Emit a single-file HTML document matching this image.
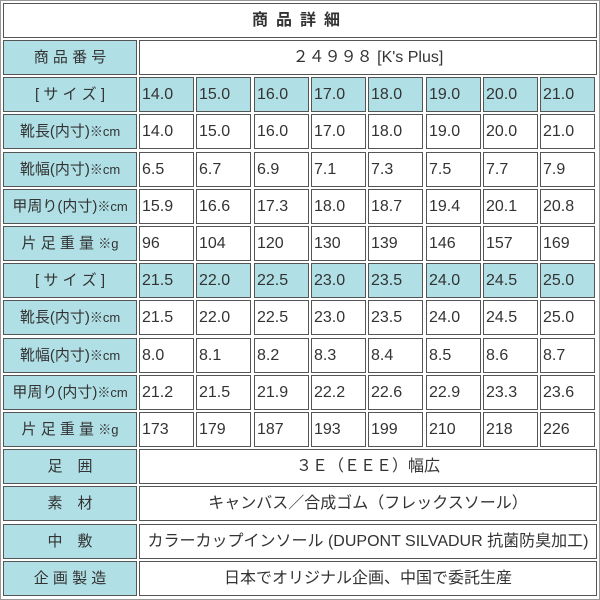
<!DOCTYPE html><html><head><meta charset="utf-8"><style>
body{margin:0;width:600px;height:600px;background:#fff;position:relative;overflow:hidden;font-family:"Liberation Sans","Noto Sans CJK JP",sans-serif;color:#333}
.o{position:absolute;left:0;top:0;width:598px;height:598px;border:1px solid #999}
.c{position:absolute;box-sizing:border-box;border:1px solid #555;font-size:16px;line-height:33px;white-space:nowrap;overflow:hidden}
.b{background:#b0e0e6}
.ct{text-align:center}
.l{padding-left:2px}
small{font-size:13px}
</style></head><body><div class="o"></div>
<div id="r"></div>
<script>
var rows=[
["商 品 番 号","２４９９８ [K's Plus]"],
["[ サ イ ズ ]",["14.0","15.0","16.0","17.0","18.0","19.0","20.0","21.0"],1],
["靴長(内寸)<small>※cm</small>",["14.0","15.0","16.0","17.0","18.0","19.0","20.0","21.0"]],
["靴幅(内寸)<small>※cm</small>",["6.5","6.7","6.9","7.1","7.3","7.5","7.7","7.9"]],
["甲周り(内寸)<small>※cm</small>",["15.9","16.6","17.3","18.0","18.7","19.4","20.1","20.8"]],
["片 足 重 量 <small>※g</small>",["96","104","120","130","139","146","157","169"]],
["[ サ イ ズ ]",["21.5","22.0","22.5","23.0","23.5","24.0","24.5","25.0"],1],
["靴長(内寸)<small>※cm</small>",["21.5","22.0","22.5","23.0","23.5","24.0","24.5","25.0"]],
["靴幅(内寸)<small>※cm</small>",["8.0","8.1","8.2","8.3","8.4","8.5","8.6","8.7"]],
["甲周り(内寸)<small>※cm</small>",["21.2","21.5","21.9","22.2","22.6","22.9","23.3","23.6"]],
["片 足 重 量 <small>※g</small>",["173","179","187","193","199","210","218","226"]],
["足　囲","３Ｅ（ＥＥＥ）幅広"],
["素　材","キャンバス／合成ゴム（フレックスソール）"],
["中　敷","カラーカップインソール (DUPONT SILVADUR 抗菌防臭加工)"],
["企 画 製 造","日本でオリジナル企画、中国で委託生産"]];
var h='<div class="c ct" style="left:3px;top:3px;width:594px;height:35px;font-weight:bold;letter-spacing:8px">商品詳細</div>';
rows.forEach(function(r,i){var t=Math.round(40+i*37.2);
h+='<div class="c b ct" style="left:3px;top:'+t+'px;width:134px;height:35px;font-size:15px">'+r[0]+'</div>';
if(typeof r[1]=="string")h+='<div class="c ct" style="left:139px;top:'+t+'px;width:458px;height:35px">'+r[1]+'</div>';
else r[1].forEach(function(v,j){h+='<div class="c l'+(r[2]?' b':'')+'" style="left:'+Math.round(139+j*57.3)+'px;top:'+t+'px;width:55px;height:35px">'+v+'</div>';});});
document.getElementById('r').innerHTML=h;
</script></body></html>
